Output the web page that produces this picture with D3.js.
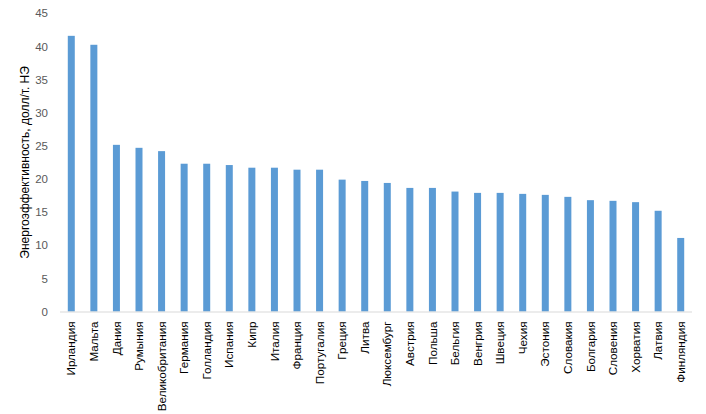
<!DOCTYPE html>
<html><head><meta charset="utf-8">
<script src="https://cdn.jsdelivr.net/npm/d3@7"></script>
<style>body{margin:0;background:#fff;}svg{display:block;}</style>
</head><body>
<script>
const categories = ["Ирландия","Мальта","Дания","Румыния","Великобритания","Германия","Голландия","Испания","Кипр","Италия","Франция","Португалия","Греция","Литва","Люксембург","Австрия","Польша","Бельгия","Венгрия","Швеция","Чехия","Эстония","Словакия","Болгария","Словения","Хорватия","Латвия","Финляндия"];
const values = [41.6,40.25,25.15,24.7,24.2,22.3,22.3,22.1,21.7,21.7,21.4,21.4,19.9,19.7,19.4,18.65,18.65,18.1,17.9,17.9,17.75,17.6,17.3,16.8,16.7,16.5,15.2,11.1];
const yTicks = [0,5,10,15,20,25,30,35,40,45];
const yTitle = "Энергоэффективность, долл/т. НЭ";

const W = 706, H = 414;
const m = {left:60, right:14, top:13.3, bottom:H-311.5};
const svg = d3.select("body").append("svg").attr("width",W).attr("height",H);
const font = "'Liberation Sans', Arial, sans-serif";

const x = d3.scaleBand().domain(categories).range([m.left, W-m.right]).paddingInner(0.69).paddingOuter(0.345);
const y = d3.scaleLinear().domain([0,45]).range([H-m.bottom, m.top]);

svg.append("g").selectAll("rect").data(values).join("rect")
  .attr("x",(d,i)=>x(categories[i])).attr("width",x.bandwidth())
  .attr("y",d=>y(d)).attr("height",d=>y(0)-y(d)).attr("fill","#5b9bd5");

// baseline
const xa = svg.append("g").attr("transform",`translate(0,${y(0)})`)
  .call(d3.axisBottom(x).tickSize(0).tickPadding(0));
xa.select(".domain").attr("stroke","#d9d9d9").attr("d",`M${m.left},0.5H${W-m.right}`);
xa.selectAll("text").attr("font-family",font).attr("font-size",11.7).attr("fill","#000")
  .attr("transform","rotate(-90)").attr("text-anchor","end").attr("x",-10).attr("y",0).attr("dy","0.35em");

const ya = svg.append("g").attr("transform",`translate(${m.left},0)`)
  .call(d3.axisLeft(y).tickValues(yTicks).tickSize(0).tickPadding(12));
ya.select(".domain").remove();
ya.selectAll("text").attr("font-family",font).attr("font-size",11.5).attr("fill","#595959");

svg.append("text").attr("transform",`translate(25,${(y(0)+y(45))/2}) rotate(-90)`)
  .attr("text-anchor","middle").attr("dy","0.35em").attr("font-family",font).attr("font-size",12)
  .attr("fill","#000").text(yTitle);
</script>
</body></html>
